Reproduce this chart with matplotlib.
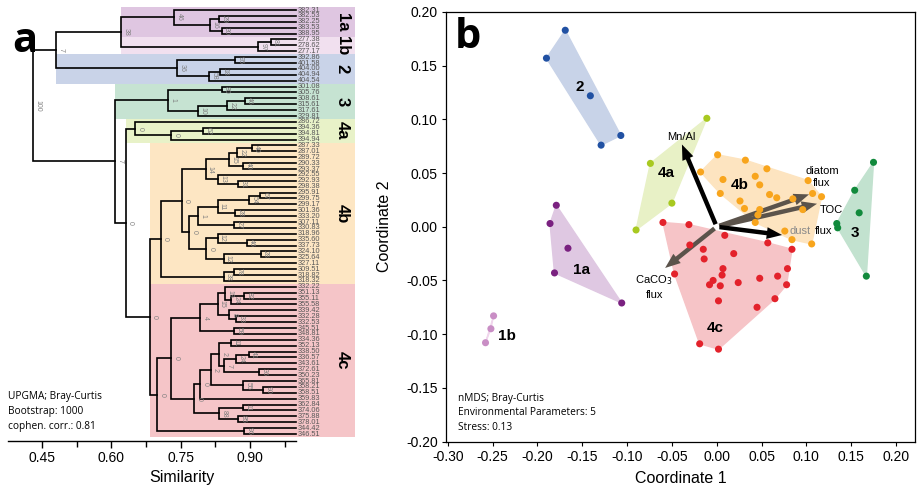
import numpy as np
import matplotlib.pyplot as plt
from matplotlib.patches import Rectangle, Polygon, FancyArrowPatch

plt.rcParams['font.family'] = ['Liberation Sans', 'DejaVu Sans']

# ---------------- dendrogram (panel a) ----------------
group_names = ['1a', '1b', '2', '3', '4a', '4b', '4c']
group_sizes = [5, 3, 5, 6, 4, 24, 26]
band_start = [0.621, 0.621, 0.480, 0.609, 0.631, 0.683, 0.683]
band_colors = ['#dfc6e1', '#f1e0ef', '#c9d3e8', '#c6e3d2', '#e8f2c8', '#fde6c3', '#f5c5c8']

leaf_labels = [
    '382.31', '382.53', '382.25', '383.53', '388.95',
    '277.38', '278.62', '277.17',
    '392.86', '401.58', '404.00', '404.94', '404.54',
    '301.08', '305.76', '308.61', '315.61', '317.61', '329.81',
    '286.72', '394.36', '394.81', '394.94',
    '287.33', '287.01', '289.72', '290.33', '293.37', '292.55', '292.93', '298.38',
    '295.91', '299.75', '299.17', '301.36', '333.20', '307.11', '330.83', '318.96',
    '335.60', '337.73', '324.10', '325.64', '327.11', '309.51', '318.82', '318.32',
    '332.22', '351.13', '355.11', '355.58', '339.42', '332.28', '332.53', '345.51',
    '348.81', '334.36', '352.13', '338.50', '336.57', '343.61', '372.61', '350.23',
    '365.81', '358.21', '358.51', '359.83', '362.84', '374.06', '375.88', '378.01',
    '344.42', '346.51',
]

# merges: (child a, child b, similarity, bootstrap); leaf i -> i, merge k -> 100 + k
merges = [
    (1, 2, 0.833, '29'), (3, 4, 0.839, '30'), (100, 101, 0.813, '16'), (0, 102, 0.736, '46'),
    (5, 6, 0.945, '81'), (104, 7, 0.918, '97'), (103, 105, 0.621, '38'),
    (8, 9, 0.868, '95'), (10, 11, 0.835, '18'), (108, 12, 0.812, '58'), (107, 109, 0.742, '36'),
    (106, 110, 0.480, '7'),
    (13, 14, 0.839, '80'), (15, 16, 0.889, '46'), (113, 17, 0.850, '22'), (114, 18, 0.788, '10'),
    (112, 115, 0.722, '1'),
    (20, 21, 0.799, '62'), (117, 22, 0.729, '0'), (19, 118, 0.652, '0'),
    (23, 24, 0.904, '40'), (120, 25, 0.873, '22'), (26, 27, 0.886, '40'), (121, 122, 0.854, '15'),
    (29, 30, 0.875, '31'), (28, 124, 0.832, '13'), (123, 125, 0.804, '14'),
    (31, 32, 0.922, '67'), (127, 33, 0.899, '54'), (34, 35, 0.868, '28'), (128, 129, 0.830, '11'),
    (36, 37, 0.865, '27'), (130, 131, 0.788, '1'),
    (39, 40, 0.893, '46'), (38, 133, 0.830, '12'), (41, 42, 0.923, '28'), (135, 43, 0.843, '12'),
    (134, 136, 0.806, '0'), (132, 137, 0.769, '0'), (126, 138, 0.752, '0'),
    (44, 45, 0.866, '78'), (140, 46, 0.843, '38'), (139, 141, 0.707, '0'),
    (48, 49, 0.888, '82'), (143, 50, 0.859, '24'), (47, 144, 0.846, '19'),
    (52, 53, 0.870, '33'), (51, 146, 0.855, '8'), (145, 147, 0.830, '15'),
    (54, 55, 0.866, '59'), (148, 149, 0.792, '4'),
    (56, 57, 0.860, '11'), (58, 59, 0.898, '41'), (152, 60, 0.870, '24'), (61, 62, 0.920, '36'),
    (153, 154, 0.844, '7'), (151, 155, 0.833, '2'),
    (64, 65, 0.928, '90'), (63, 157, 0.886, '55'), (156, 158, 0.815, '2'), (159, 66, 0.792, '0'),
    (67, 68, 0.886, '11'), (69, 70, 0.875, '85'), (161, 162, 0.833, '88'),
    (160, 163, 0.779, '0'), (150, 164, 0.730, '0'),
    (71, 72, 0.888, '96'), (165, 166, 0.699, '0'),
    (142, 167, 0.683, '0'), (119, 168, 0.631, '0'), (116, 169, 0.609, '7'),
    (111, 170, 0.431, '100'),
]

# ---------------- nMDS (panel b) ----------------
mds_1a_x = [-0.179, -0.186, -0.166, -0.181, -0.106]
mds_1a_y = [0.020, 0.003, -0.020, -0.043, -0.071]
mds_1b_x = [-0.249, -0.252, -0.258]
mds_1b_y = [-0.083, -0.095, -0.108]
mds_2_x = [-0.169, -0.190, -0.141, -0.107, -0.129]
mds_2_y = [0.183, 0.157, 0.122, 0.085, 0.076]
mds_3_x = [0.175, 0.154, 0.159, 0.134, 0.135, 0.167]
mds_3_y = [0.060, 0.034, 0.013, 0.003, -0.001, -0.046]
mds_4a_x = [-0.011, -0.074, -0.050, -0.090]
mds_4a_y = [0.101, 0.059, 0.022, -0.003]
mds_4b_x = [0.001, 0.032, 0.056, -0.018, 0.007, 0.043, 0.048, 0.102, 0.004, 0.026, 0.059, 0.067,
            0.085, 0.107, 0.117, 0.031, 0.048, 0.046, 0.096, 0.043, 0.076, 0.084, 0.106]
mds_4b_y = [0.067, 0.062, 0.054, 0.051, 0.044, 0.047, 0.039, 0.043, 0.031, 0.024, 0.030, 0.027,
            0.026, 0.031, 0.028, 0.017, 0.016, 0.011, 0.016, 0.004, -0.004, -0.012, -0.016]
mds_4c_x = [-0.060, -0.031, 0.009, -0.030, -0.015, 0.057, 0.084, -0.014, 0.019, 0.007, 0.006, -0.047,
            0.079, 0.068, 0.048, 0.024, -0.004, -0.008, 0.004, 0.078, 0.065, 0.045, 0.002, -0.019, 0.002]
mds_4c_y = [0.004, 0.002, -0.008, -0.017, -0.021, -0.015, -0.021, -0.030, -0.025, -0.039, -0.045, -0.044,
            -0.039, -0.046, -0.048, -0.052, -0.050, -0.054, -0.055, -0.054, -0.067, -0.075, -0.069, -0.109, -0.114]

point_colors = ['#7a2180', '#c98ec5', '#2151a3', '#118a3c', '#a8c920', '#f8a51d', '#e3222b']
hull_colors = ['#dfc8e2', '#f0d6ec', '#c8d3e8', '#c2e2cf', '#e8f1c6', '#fde4c0', '#f6c4c7']
label_x = [-0.151, -0.234, -0.153, 0.154, -0.056, 0.026, -0.002]
label_y = [-0.040, -0.102, 0.130, -0.006, 0.050, 0.039, -0.094]

env_names = ['Mn/Al', 'diatom flux', 'TOC', 'dust flux', 'CaCO3 flux']
env_x = [-0.040, 0.106, 0.115, 0.076, -0.060]
env_y = [0.079, 0.031, 0.022, -0.008, -0.040]
env_colors = ['black', '#5b534b', '#5b534b', 'black', '#5b534b']

W, H = 922, 495
fig = plt.figure(figsize=(W / 100, H / 100), dpi=100)


def frac(x0, y0, x1, y1):
    return [x0 / W, 1 - y1 / H, (x1 - x0) / W, (y1 - y0) / H]


# ---- panel a ----
ax = fig.add_axes(frac(8, 5, 355, 441))
n_leaves = len(leaf_labels)
ax.set_xlim(0.3764, 1.1275)
ax.set_ylim(73.18, -0.85)

start = 0
for name, size, x0, col in zip(group_names, group_sizes, band_start, band_colors):
    ax.add_patch(Rectangle((x0, start - 0.5), 1.1275 - x0, size, facecolor=col,
                           edgecolor='none', zorder=0))
    ax.text(1.0995, start - 0.5 + size / 2, name, rotation=-90, ha='center', va='center',
            fontsize=12, fontweight='bold', zorder=3)
    start += size

xpos = {i: 1.0 for i in range(n_leaves)}
ypos = {i: float(i) for i in range(n_leaves)}
for k, (a, b, s, boot) in enumerate(merges):
    ax.plot([xpos[a], s, s, xpos[b]], [ypos[a], ypos[a], ypos[b], ypos[b]],
            color='black', lw=1.2, solid_joinstyle='miter', zorder=2)
    xpos[100 + k] = s
    ypos[100 + k] = (ypos[a] + ypos[b]) / 2
    ax.text(s + 0.003, ypos[100 + k], boot, rotation=-90, fontsize=5, color='#808080',
            ha='left', va='center', zorder=3)

for i, lab in enumerate(leaf_labels):
    ax.text(1.003, i, lab, fontsize=5.3, color='#585858', ha='left', va='center', zorder=3)

for sp in ['left', 'top', 'right']:
    ax.spines[sp].set_visible(False)
ax.spines['bottom'].set_bounds(0.3764, 1.0)
ax.spines['bottom'].set_linewidth(1.0)
ax.set_yticks([])
ax.set_xticks([0.45, 0.60, 0.75, 0.90])
ax.set_xticklabels(['0.45', '0.60', '0.75', '0.90'], fontsize=10)
ax.set_xticks([0.525, 0.675, 0.825, 0.975], minor=True)
ax.tick_params(axis='x', which='major', length=5, width=1, pad=2)
ax.tick_params(axis='x', which='minor', length=4, width=1)
ax.set_xlabel('Similarity', fontsize=11.5, labelpad=4)
ax.patch.set_alpha(0)

# ---- panel b ----
ax2 = fig.add_axes(frac(446, 12, 915, 441.5))
ax2.set_xlim(-0.3021, 0.2213)
ax2.set_ylim(-0.20, 0.20)

groups_x = [mds_1a_x, mds_1b_x, mds_2_x, mds_3_x, mds_4a_x, mds_4b_x, mds_4c_x]
groups_y = [mds_1a_y, mds_1b_y, mds_2_y, mds_3_y, mds_4a_y, mds_4b_y, mds_4c_y]


def convex_hull(pts):
    pts = sorted(set(pts))
    if len(pts) < 3:
        return pts

    def cross(o, a, b):
        return (a[0] - o[0]) * (b[1] - o[1]) - (a[1] - o[1]) * (b[0] - o[0])

    lower, upper = [], []
    for p in pts:
        while len(lower) >= 2 and cross(lower[-2], lower[-1], p) <= 0:
            lower.pop()
        lower.append(p)
    for p in reversed(pts):
        while len(upper) >= 2 and cross(upper[-2], upper[-1], p) <= 0:
            upper.pop()
        upper.append(p)
    return lower[:-1] + upper[:-1]


for gx, gy, pc, hc, name, lx, ly in zip(groups_x, groups_y, point_colors, hull_colors,
                                          group_names, label_x, label_y):
    hull = convex_hull(list(zip(gx, gy)))
    ax2.add_patch(Polygon(hull, closed=True, facecolor=hc, edgecolor=hc, lw=1.0, zorder=1))
    ax2.scatter(gx, gy, s=26, color=pc, edgecolors='none', zorder=4)
    ax2.text(lx, ly, name, fontsize=11, fontweight='bold', ha='center', va='center', zorder=6)

for ex, ey, ec in zip(env_x, env_y, env_colors):
    ax2.add_patch(FancyArrowPatch((0, 0), (ex, ey), arrowstyle='simple,head_length=1.1,head_width=0.85,tail_width=0.32',
                                  mutation_scale=10, color=ec, lw=0, zorder=3))

ax2.text(-0.040, 0.084, 'Mn/Al', fontsize=8, ha='center', va='center', zorder=6)
ax2.text(0.1175, 0.046, 'diatom\nflux', fontsize=8, ha='center', va='center', linespacing=1.25, zorder=6)
ax2.text(0.1275, 0.0155, 'TOC', fontsize=8, ha='center', va='center', zorder=6)
ax2.text(0.093, -0.0037, 'dust', fontsize=8, color='#8a8a8a', ha='center', va='center', zorder=6)
ax2.text(0.1197, -0.0037, 'flux', fontsize=8, ha='center', va='center', zorder=6)
ax2.text(-0.070, -0.0496, 'CaCO$_3$', fontsize=8, ha='center', va='center', zorder=6)
ax2.text(-0.069, -0.0636, 'flux', fontsize=8, ha='center', va='center', zorder=6)

xt = [-0.30, -0.25, -0.20, -0.15, -0.10, -0.05, 0.00, 0.05, 0.10, 0.15, 0.20]
yt = [-0.20, -0.15, -0.10, -0.05, 0.00, 0.05, 0.10, 0.15, 0.20]
ax2.set_xticks(xt)
ax2.set_xticklabels([f'{v:.2f}' for v in xt], fontsize=10)
ax2.set_yticks(yt)
ax2.set_yticklabels([f'{v:.2f}' for v in yt], fontsize=10)
ax2.tick_params(length=3, width=0.8, direction='out', pad=3)
for sp in ax2.spines.values():
    sp.set_linewidth(0.9)
ax2.set_xlabel('Coordinate 1', fontsize=11.5, labelpad=5)
ax2.set_ylabel('Coordinate 2', fontsize=11.5, labelpad=10)

# annotations
ann_font = ['Open Sans', 'DejaVu Sans']
for i, t in enumerate(['UPGMA; Bray-Curtis', 'Bootstrap: 1000', 'cophen. corr.: 0.81']):
    fig.text(8 / W, 1 - (397 + 14.5 * i) / H, t, fontsize=7.3, family=ann_font, va='center', ha='left')
for i, t in enumerate(['nMDS; Bray-Curtis', 'Environmental Parameters: 5', 'Stress: 0.13']):
    fig.text(458 / W, 1 - (398 + 14.5 * i) / H, t, fontsize=7.3, family=ann_font, va='center', ha='left')

fig.text(25 / W, 1 - 42 / H, 'a', fontsize=30, fontweight='bold', ha='center', va='center', family=ann_font)
fig.text(468 / W, 1 - 37 / H, 'b', fontsize=30, fontweight='bold', ha='center', va='center', family=ann_font)

fig.savefig('out.png', dpi=100)
